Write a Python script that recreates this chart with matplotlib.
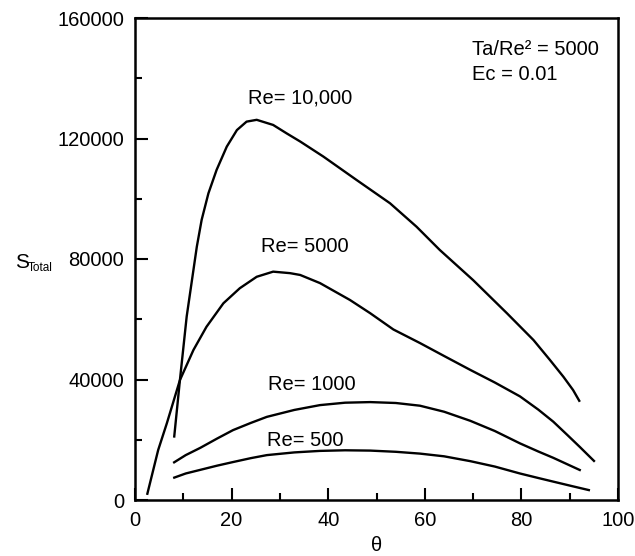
import numpy as np
import matplotlib
matplotlib.use('Agg')
import matplotlib.pyplot as plt
from matplotlib.ticker import MultipleLocator

plt.rcParams['font.family'] = ['Liberation Sans', 'DejaVu Sans']

# values
theta_10000 = [8.1, 9.3, 10.7, 12.8, 13.8, 15.2, 16.9, 19.0, 21.1, 23.1, 25.2, 28.6, 31.4, 34.2, 39.0,
               45.9, 52.8, 58.3, 63.1, 70.0, 77.0, 82.5, 85.9, 88.7, 90.7, 92.1]
s_10000 = [20700, 39800, 60900, 84100, 93000, 101800, 109600, 117300, 122800, 125600, 126200, 124500,
           121700, 119000, 114000, 106200, 98500, 90700, 83000, 73000, 62000, 53100, 46500, 40900, 36500, 32600]

theta_5000 = [2.5, 4.8, 6.6, 9.3, 12.1, 14.8, 18.3, 21.7, 25.2, 28.6, 32.1, 34.2, 38.3, 44.5, 48.7,
              53.5, 59.0, 64.0, 69.4, 74.5, 79.7, 83.5, 86.6, 89.5, 92.1, 95.2]
s_5000 = [1700, 16600, 25500, 39800, 49800, 57500, 65300, 70300, 74100, 75800, 75300, 74700, 72000,
          66400, 62000, 56600, 52100, 47800, 43200, 39000, 34400, 30000, 26000, 21600, 17600, 12700]

theta_1000 = [7.9, 10.5, 13.5, 17.0, 20.3, 24.0, 27.3, 33.0, 38.3, 43.5, 48.7, 54.0, 59.0, 64.0, 69.4, 74.5,
              79.7, 83.5, 86.6, 92.3]
s_1000 = [12300, 14900, 17300, 20400, 23200, 25600, 27600, 29900, 31500, 32300, 32500, 32200, 31300, 29300,
          26300, 22900, 18800, 16100, 14000, 9800]

theta_500 = [7.9, 10.5, 13.5, 17.0, 20.3, 24.0, 27.3, 33.0, 38.3, 43.5, 48.7, 54.0, 59.0, 64.0, 69.4, 74.5,
             79.7, 83.5, 86.6, 90.5, 94.2]
s_500 = [7300, 8800, 10000, 11400, 12600, 13900, 14900, 15800, 16300, 16500, 16400, 16000, 15400, 14500,
         12900, 11100, 8800, 7300, 6100, 4600, 3200]

labels = ['Re= 10,000', 'Re= 5000', 'Re= 1000', 'Re= 500']
label_x = [34.2, 35.2, 36.6, 35.2]
label_y = [133500, 84000, 38200, 19900]

fig = plt.figure(figsize=(6.35, 5.56), dpi=100)
ax = fig.add_axes([135 / 635, 56 / 556, 483 / 635, 482 / 556])

for th, s in [(theta_10000, s_10000), (theta_5000, s_5000), (theta_1000, s_1000), (theta_500, s_500)]:
    ax.plot(th, s, color='black', lw=1.7, solid_joinstyle='round', solid_capstyle='butt')

for lab, lx, ly in zip(labels, label_x, label_y):
    ax.text(lx, ly, lab, fontsize=14.5, ha='center', va='center')

ax.text(69.8, 149400, 'Ta/Re² = 5000', fontsize=14.5, ha='left', va='center')
ax.text(69.8, 141400, 'Ec = 0.01', fontsize=14.5, ha='left', va='center')

ax.set_xlim(0, 100)
ax.set_ylim(0, 160000)
ax.xaxis.set_major_locator(MultipleLocator(20))
ax.xaxis.set_minor_locator(MultipleLocator(10))
ax.yaxis.set_major_locator(MultipleLocator(40000))
ax.yaxis.set_minor_locator(MultipleLocator(20000))
ax.tick_params(which='major', direction='in', length=9, width=1.5, labelsize=14.5, pad=8)
ax.tick_params(which='minor', direction='in', length=5, width=1.5)
for sp in ax.spines.values():
    sp.set_linewidth(1.8)

ax.set_xlabel('θ', fontsize=14.5, labelpad=4)
fig.text(15 / 635, 1 - 262 / 556, 'S', fontsize=15, ha='left', va='center')
fig.text(28 / 635, 1 - 268 / 556, 'Total', fontsize=8.5, ha='left', va='center')

fig.savefig('out.png', dpi=100)
